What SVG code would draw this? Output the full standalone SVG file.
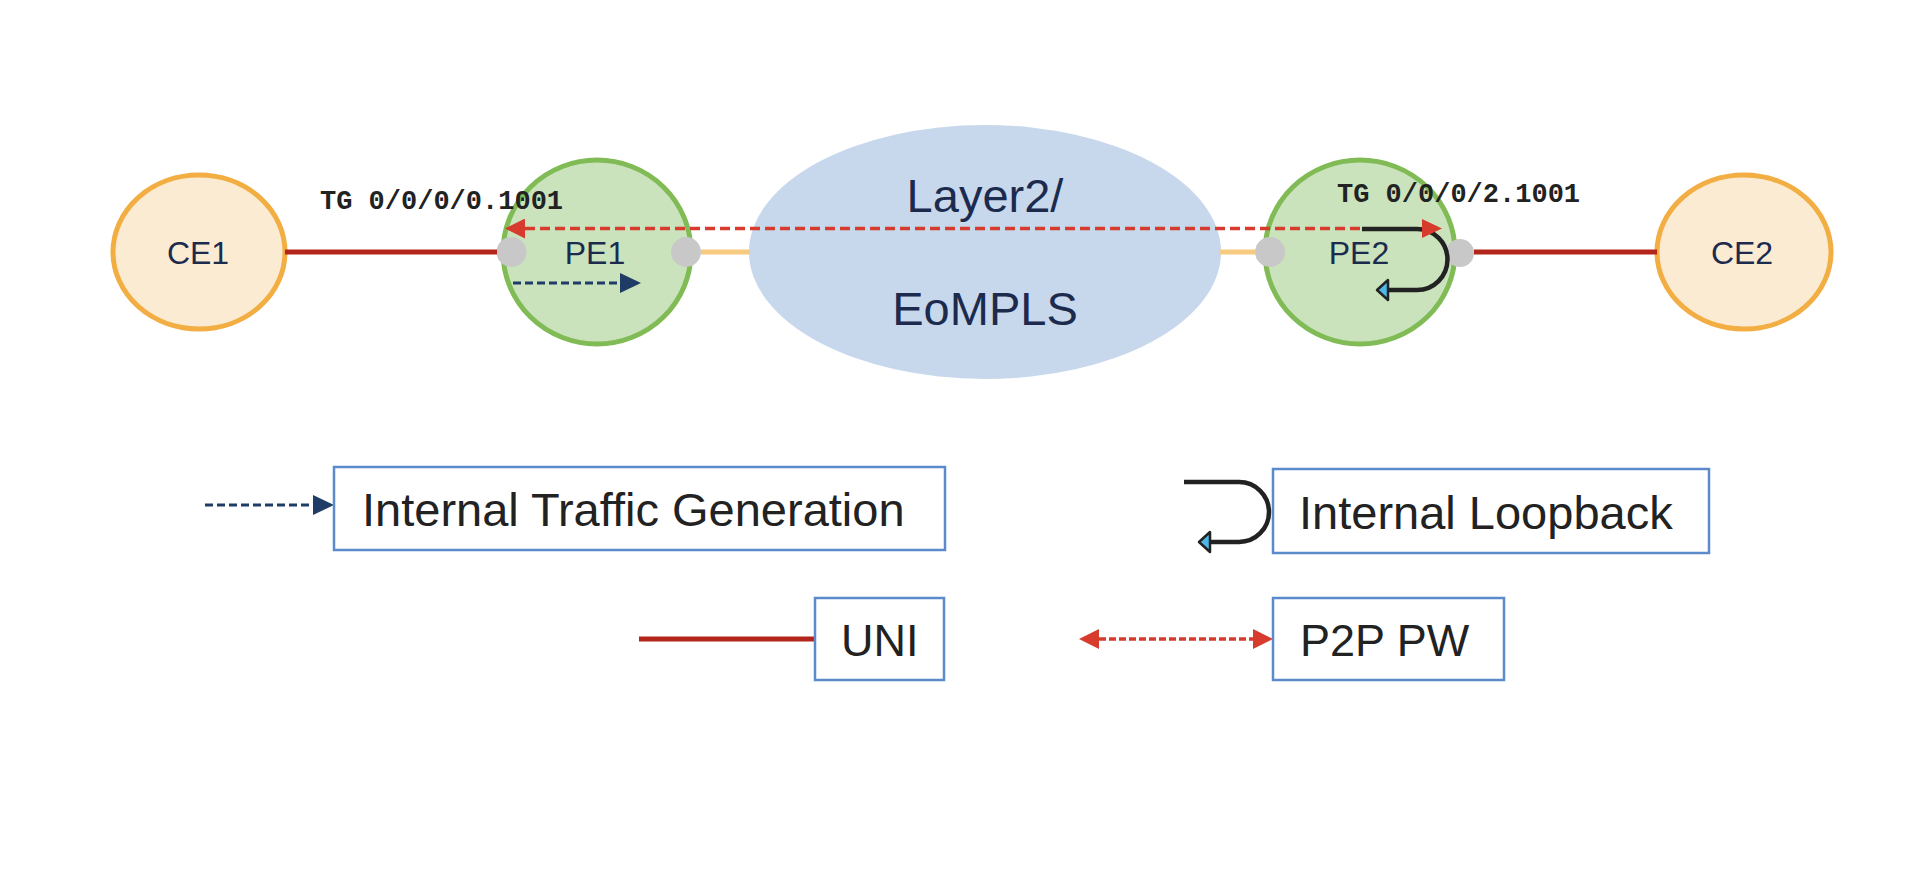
<svg xmlns="http://www.w3.org/2000/svg" width="1918" height="894" viewBox="0 0 1918 894">
<style>
.ce{fill:#FCEBD3;stroke:#F2AE43;stroke-width:5}
.pe{fill:#CAE3BC;stroke:#80BB55;stroke-width:5}
.port{fill:#C8C8C8}
.cloud{fill:#C7D8ED}
.nl{font-family:"Liberation Sans",Arial,sans-serif;font-size:32px;fill:#1C2B4D;text-anchor:middle}
.cl{font-family:"Liberation Sans",Arial,sans-serif;font-size:47px;fill:#1C2B4D;text-anchor:middle}
.tg{font-family:"Liberation Mono","Courier New",monospace;font-weight:bold;font-size:27px;fill:#222}
.lg{font-family:"Liberation Sans",Arial,sans-serif;font-size:47px;fill:#222}
.box{fill:#fff;stroke:#5B8BCB;stroke-width:2.5}
.uni{stroke:#B3241B;stroke-width:5;fill:none}
.yel{stroke:#F6CB7F;stroke-width:5;fill:none}
.pw{stroke:#D63B2E;stroke-width:3.5;stroke-dasharray:10,5;fill:none}
.pwl{stroke:#D63B2E;stroke-width:3.5;stroke-dasharray:7,3;fill:none}
.tgl{stroke:#1F3C66;stroke-width:3;stroke-dasharray:8,4;fill:none}
.loop{stroke:#222;stroke-width:4.5;fill:none}
</style>
<defs>
<marker id="ra" markerUnits="userSpaceOnUse" markerWidth="20" markerHeight="20" refX="0" refY="10" orient="auto-start-reverse" viewBox="0 0 20 20"><path d="M0,0 L20,10 L0,20 z" fill="#D63B2E"/></marker>
<marker id="ba" markerUnits="userSpaceOnUse" markerWidth="21" markerHeight="20" refX="0" refY="10" orient="auto" viewBox="0 0 21 20"><path d="M0,0 L21,10 L0,20 z" fill="#1F3C66"/></marker>
<marker id="la" markerUnits="userSpaceOnUse" markerWidth="16" markerHeight="24" refX="2" refY="12" orient="auto" viewBox="0 0 16 24"><path d="M2,2 L13,12 L2,22 z" fill="#4DB8E8" stroke="#222" stroke-width="2.5" stroke-linejoin="round"/></marker>
</defs>

<g id="ce1"><ellipse class="ce" cx="199" cy="252" rx="86" ry="77"/><text class="nl" x="198" y="263.5">CE1</text></g>
<g id="pe1"><ellipse class="pe" cx="597" cy="252" rx="94" ry="92"/><text class="nl" x="595" y="263.5">PE1</text></g>
<g id="cloud"><ellipse class="cloud" cx="985" cy="252" rx="236" ry="127"/><text class="cl" x="985" y="212">Layer2/</text><text class="cl" x="985" y="325">EoMPLS</text></g>
<g id="pe2"><ellipse class="pe" cx="1360" cy="252" rx="95" ry="92"/><text class="nl" x="1359" y="263.5">PE2</text></g>
<g id="ce2"><ellipse class="ce" cx="1744" cy="252" rx="87" ry="77"/><text class="nl" x="1742" y="263.5">CE2</text></g>
<g id="ports">
<circle class="port" cx="511.5" cy="252" r="15"/>
<circle class="port" cx="686" cy="252" r="15"/>
<circle class="port" cx="1270" cy="252" r="15"/>
<circle class="port" cx="1460" cy="253" r="14"/>
</g>
<g id="labels">
<text class="tg" x="320" y="209">TG 0/0/0/0.1001</text>
<text class="tg" x="1337" y="202">TG 0/0/0/2.1001</text>
</g>

<g id="connectors">
<line class="uni" x1="285" y1="252" x2="497" y2="252"/>
<line class="uni" x1="1474" y1="252" x2="1657" y2="252"/>
<line class="yel" x1="701" y1="252" x2="750" y2="252"/>
<line class="yel" x1="1220" y1="252" x2="1255" y2="252"/>
<path class="tgl" d="M513,283 H620" marker-end="url(#ba)"/>
<path class="loop" d="M1362,229 H1417 A30.5,30.5 0 0 1 1417,290 H1388" marker-end="url(#la)"/>
<path class="pw" d="M525,228.5 H1362" marker-start="url(#ra)"/>
<polygon points="1422,219 1442,228.5 1422,238" fill="#D63B2E"/>
</g>

<g id="legend-tg">
<path class="tgl" d="M205,505 H313" marker-end="url(#ba)"/>
<rect class="box" x="334" y="467" width="611" height="83"/>
<text class="lg" x="362" y="526">Internal Traffic Generation</text>
</g>
<g id="legend-loop">
<path class="loop" d="M1184,482 H1239 A30,30 0 0 1 1239,542 H1210" marker-end="url(#la)"/>
<rect class="box" x="1273" y="469" width="436" height="84"/>
<text class="lg" x="1299" y="529">Internal Loopback</text>
</g>
<g id="legend-uni">
<line class="uni" x1="639" y1="639" x2="815" y2="639"/>
<rect class="box" x="815" y="598" width="129" height="82"/>
<text class="lg" x="841" y="656" style="font-size:45px">UNI</text>
</g>
<g id="legend-pw">
<path class="pwl" d="M1099,639 H1253" marker-start="url(#ra)" marker-end="url(#ra)"/>
<rect class="box" x="1273" y="598" width="231" height="82"/>
<text class="lg" x="1300" y="656" style="font-size:45px">P2P PW</text>
</g>
</svg>
